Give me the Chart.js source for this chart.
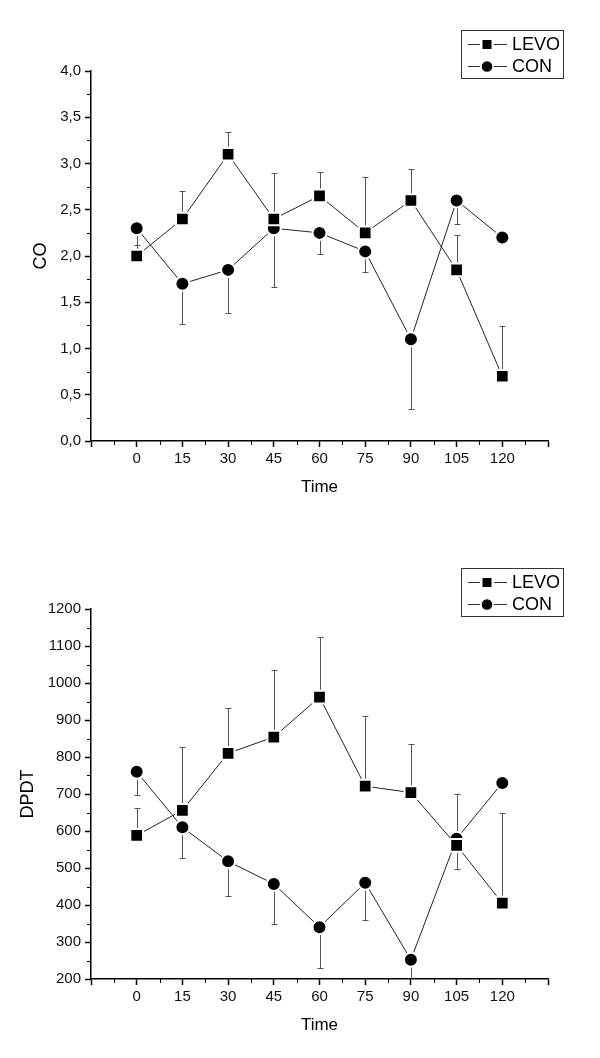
<!DOCTYPE html>
<html>
<head>
<meta charset="utf-8">
<script src="https://cdn.jsdelivr.net/npm/chart.js@4.4.0/dist/chart.umd.min.js"></script>
<style>
  body { margin: 0; background: #fff; }
  .panel { position: absolute; left: 0; width: 600px; height: 529px; }
</style>
</head>
<body>
<div class="panel" style="top:0"><canvas id="co" width="600" height="529"></canvas></div>
<div class="panel" style="top:529px"><canvas id="dpdt" width="600" height="529"></canvas></div>
<script>
// data
var times = [0, 15, 30, 45, 60, 75, 90, 105, 120];

var coLevo   = [2.0, 2.4, 3.1, 2.4, 2.65, 2.25, 2.6, 1.85, 0.7];
var coLevoSd = [0.12, 0.30, 0.24, 0.50, 0.26, 0.60, 0.34, 0.38, 0.54];
var coCon    = [2.3, 1.7, 1.85, 2.3, 2.25, 2.05, 1.1, 2.6, 2.2];
var coConSd  = [0.22, 0.43, 0.47, 0.63, 0.23, 0.22, 0.75, 0.25, 0];

var dpdtLevo   = [588, 656, 810, 854, 962, 721, 704, 561, 405];
var dpdtLevoSd = [74, 171, 123, 182, 163, 189, 130, 139, 243];
var dpdtCon    = [760, 610, 518, 457, 340, 460, 252, 579, 730];
var dpdtConSd  = [62, 83, 95, 108, 110, 101, 100, 81, 0];

var FONT = '"Liberation Sans", Arial, sans-serif';
Chart.defaults.font.family = FONT;
Chart.defaults.color = '#000';

function pts(vals) {
  return vals.map(function(v, i) { return {x: times[i], y: v}; });
}

// error bars: LEVO upward, CON downward
var errorBars = {
  id: 'errorBars',
  beforeDatasetsDraw: function(chart) {
    var ctx = chart.ctx, a = chart.chartArea;
    var xs = chart.scales.x, ys = chart.scales.y;
    ctx.save();
    ctx.beginPath();
    ctx.rect(a.left, a.top, a.right - a.left, a.bottom - a.top);
    ctx.clip();
    ctx.strokeStyle = '#555';
    ctx.lineWidth = 1;
    chart.data.datasets.forEach(function(ds) {
      ds.data.forEach(function(p, i) {
        var sd = ds.sd[i];
        if (!sd) return;
        var x = Math.round(xs.getPixelForValue(p.x)) + 0.5;
        var y0 = ys.getPixelForValue(p.y);
        var y1 = Math.round(ys.getPixelForValue(p.y + ds.sdDir * sd)) + 0.5;
        ctx.beginPath();
        ctx.moveTo(x, y0); ctx.lineTo(x, y1);
        ctx.moveTo(x - 3, y1); ctx.lineTo(x + 3, y1);
        ctx.stroke();
      });
    });
    ctx.restore();
  }
};

var minorTicks = {
  id: 'minorTicks',
  afterDraw: function(chart) {
    var ctx = chart.ctx, a = chart.chartArea;
    ctx.save();
    ctx.strokeStyle = '#000';
    ctx.lineWidth = 1;
    ['x', 'y'].forEach(function(id) {
      var sc = chart.scales[id], t = sc.ticks;
      for (var i = 0; i < t.length - 1; i++) {
        var p = Math.round(sc.getPixelForValue((t[i].value + t[i + 1].value) / 2)) + 0.5;
        ctx.beginPath();
        if (id === 'x') { ctx.moveTo(p, a.bottom); ctx.lineTo(p, a.bottom + 4); }
        else { ctx.moveTo(a.left, p); ctx.lineTo(a.left - 4, p); }
        ctx.stroke();
      }
    });
    ctx.restore();
  }
};

var boxLegend = {
  id: 'boxLegend',
  afterDraw: function(chart) {
    var ctx = chart.ctx, a = chart.chartArea;
    var bx = Math.round(a.right - 87), by = Math.round(a.top - 41);
    ctx.save();
    ctx.strokeStyle = '#333';
    ctx.lineWidth = 1;
    ctx.strokeRect(bx + 0.5, by + 0.5, 102, 48);
    ctx.font = '18px ' + FONT;
    ctx.fillStyle = '#000';
    ctx.textBaseline = 'middle';
    chart.data.datasets.forEach(function(ds, i) {
      var y = Math.round(by + 14 + i * 21.5) + 0.5;
      ctx.strokeStyle = '#333';
      ctx.beginPath();
      ctx.moveTo(bx + 7, y); ctx.lineTo(bx + 19, y);
      ctx.moveTo(bx + 33, y); ctx.lineTo(bx + 46, y);
      ctx.stroke();
      var cx = bx + 26;
      ctx.beginPath();
      if (ds.pointStyle === 'rect') ctx.rect(cx - 4.5, y - 4.5, 9, 9);
      else ctx.arc(cx, y, 5.3, 0, Math.PI * 2);
      ctx.fill();
      ctx.fillText(ds.label, bx + 51, y + 1);
    });
    ctx.restore();
  }
};

function makeConfig(yTitle, levo, levoSd, con, conSd, yMin, yMax, yStep, fmt, pad, titlePad) {
  return {
    type: 'line',
    data: {
      datasets: [{
        label: 'LEVO',
        data: pts(levo),
        sd: levoSd, sdDir: 1,
        borderColor: '#222', borderWidth: 1,
        pointStyle: 'rect', pointRadius: 9,
        pointBackgroundColor: '#000', pointBorderColor: '#fff', pointBorderWidth: 2
      }, {
        label: 'CON',
        data: pts(con),
        sd: conSd, sdDir: -1,
        borderColor: '#222', borderWidth: 1,
        pointStyle: 'circle', pointRadius: 7,
        pointBackgroundColor: '#000', pointBorderColor: '#fff', pointBorderWidth: 2
      }]
    },
    options: {
      responsive: false,
      animation: false,
      layout: { padding: pad },
      plugins: { legend: { display: false }, tooltip: { enabled: false } },
      scales: {
        x: {
          type: 'linear', min: -15, max: 135,
          afterFit: function(s) { s.height = 60; },
          grid: { drawOnChartArea: false, tickLength: 6, tickColor: '#000', tickWidth: 1.5 },
          border: { color: '#000', width: 1.5 },
          ticks: {
            stepSize: 15, autoSkip: false, maxRotation: 0, padding: 3,
            font: { size: 15 }, color: '#111',
            callback: function(v) { return (v < 0 || v > 120) ? '' : v; }
          },
          title: { display: true, text: 'Time', font: { size: 17 }, color: '#000', padding: { top: 0, bottom: 3 } }
        },
        y: {
          min: yMin, max: yMax,
          afterFit: function(s) { s.width = 91; },
          grid: { drawOnChartArea: false, tickLength: 6, tickColor: '#000', tickWidth: 1.5 },
          border: { color: '#000', width: 1.5 },
          ticks: { stepSize: yStep, padding: 4, font: { size: 15 }, color: '#111', callback: fmt },
          title: { display: true, text: yTitle, font: { size: 18 }, color: '#000', padding: { top: titlePad, bottom: 0 } }
        }
      }
    },
    plugins: [errorBars, minorTicks, boxLegend]
  };
}

var coChart = new Chart(document.getElementById('co'),
  makeConfig('CO', coLevo, coLevoSd, coCon, coConSd, 0, 4, 0.5,
    function(v) { return v.toFixed(1).replace('.', ','); },
    { left: 0, right: 52, top: 71, bottom: 28 }, 30));

var dpdtChart = new Chart(document.getElementById('dpdt'),
  makeConfig('DPDT', dpdtLevo, dpdtLevoSd, dpdtCon, dpdtConSd, 200, 1200, 100,
    function(v) { return v; },
    { left: 0, right: 52, top: 80, bottom: 19 }, 17));
</script>
</body>
</html>
